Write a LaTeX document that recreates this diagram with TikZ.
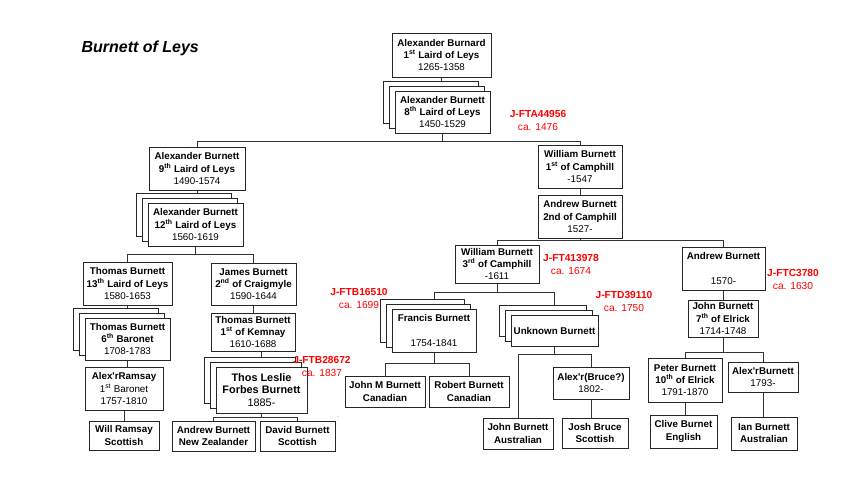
\documentclass[tikz,border=0pt]{standalone}
\usepackage{fontspec}
\setmainfont{Liberation Sans}
\usetikzlibrary{shadows,backgrounds}
\tikzset{
	box/.style={draw=black!85, fill=white, line width=0.8pt, align=center, inner sep=1pt, font=\fontsize{9.8}{12.3}\selectfont,
		drop shadow={shadow xshift=1pt, shadow yshift=-1pt, fill=black!40, opacity=1}},
	stack/.style={copy shadow={shadow xshift=-12pt, shadow yshift=10pt}, copy shadow={shadow xshift=-6pt, shadow yshift=5pt}},
	link/.style={draw=black!80, line width=0.8pt},
	ftdna/.style={text=red, align=center, font=\fontsize{10.2}{13}\selectfont}
}
% box from its corners: [options]{name}{x1}{y1}{x2}{y2}{text}
\newcommand\famnode[7][]{\node[box,#1,minimum width={#5-#3},minimum height={#6-#4}] (#2) at ({(#3+#5)/2},{(#4+#6)/2}) {#7};}
\newcommand\ap{\textquotesingle}

\begin{document}
\begin{tikzpicture}[x=1pt,y=-1pt]
		%%%%% START %%%%%
		\useasboundingbox (0,0) rectangle (864,486);
		
		\node[anchor=west, font=\fontsize{16}{18}\selectfont\bfseries\itshape] (title) at (78,48) {Burnett of Leys};
		
		% Leys line
		\famnode{burnard1}{392}{33}{491}{77}{\textbf{Alexander Burnard}\\\textbf{1\textsuperscript{st} Laird of Leys}\\1265-1358}
		\famnode[stack]{leys8}{395}{91}{490}{133}{\textbf{Alexander Burnett}\\\textbf{8\textsuperscript{th} Laird of Leys}\\1450-1529}
		\famnode{leys9}{149}{147}{245}{190}{\textbf{Alexander Burnett}\\\textbf{9\textsuperscript{th} Laird of Leys}\\1490-1574}
		\famnode[stack]{leys12}{148}{203}{243}{246}{\textbf{Alexander Burnett}\\\textbf{12\textsuperscript{th} Laird of Leys}\\1560-1619}
		\famnode{leys13}{83}{262}{172}{305}{\textbf{Thomas Burnett}\\\textbf{13\textsuperscript{th} Laird of Leys}\\1580-1653}
		\famnode{craigmyle2}{211}{263}{296}{305}{\textbf{James Burnett}\\\textbf{2\textsuperscript{nd} of Craigmyle}\\1590-1644}
		\famnode[stack]{baronet6}{85}{318}{170}{360}{\textbf{Thomas Burnett}\\\textbf{6\textsuperscript{th} Baronet}\\1708-1783}
		\famnode{kemnay1}{211}{313}{295}{351}{\textbf{Thomas Burnett}\\\textbf{1\textsuperscript{st} of Kemnay}\\1610-1688}
		\famnode{ramsay}{85}{367}{163}{410}{\textbf{Alex\ap rRamsay}\\1\textsuperscript{st} Baronet\\1757-1810}
		\famnode[stack,font=\fontsize{10.9}{12.8}\selectfont]{thos}{216}{367}{307}{413}{\textbf{Thos Leslie}\\\textbf{Forbes Burnett}\\1885-}
		\famnode{will}{89}{421}{159}{450}{\textbf{Will Ramsay}\\\textbf{Scottish}}
		\famnode{andrewnz}{172}{421}{255}{451}{\textbf{Andrew Burnett}\\\textbf{New Zealander}}
		\famnode{davidsc}{260}{421}{335}{451}{\textbf{David Burnett}\\\textbf{Scottish}}
		\node[font=\tiny] (stray) at (338,417) {.};
		
		% Camphill line
		\famnode{camphill1}{538}{145}{622}{188}{\textbf{William Burnett}\\\textbf{1\textsuperscript{st} of Camphill}\\-1547}
		\famnode{camphill2}{538}{195}{622}{238}{\textbf{Andrew Burnett}\\\textbf{2nd of Camphill}\\1527-}
		\famnode{camphill3}{455}{245}{539}{283}{\textbf{William Burnett}\\\textbf{3\textsuperscript{rd} of Camphill}\\-1611}
		\famnode[stack]{francis}{392}{309}{476}{352}{\textbf{Francis Burnett}\\[12pt]1754-1841}
		\famnode[stack]{unknown}{511}{315}{598}{346}{\textbf{Unknown Burnett}}
		\famnode{johnm}{345}{376}{425}{407}{\textbf{John M Burnett}\\\textbf{Canadian}}
		\famnode{robert}{429}{376}{509}{407}{\textbf{Robert Burnett}\\\textbf{Canadian}}
		\famnode{alexbruce}{553}{367}{629}{399}{\textbf{Alex\ap r(Bruce?)}\\1802-}
		\famnode{johnau}{483}{418}{553}{449}{\textbf{John Burnett}\\\textbf{Australian}}
		\famnode{josh}{562}{418}{628}{448}{\textbf{Josh Bruce}\\\textbf{Scottish}}
		
		% Elrick line
		\famnode{andrew1570}{682}{247}{765}{290}{\textbf{Andrew Burnett}\\[12pt]1570-}
		\famnode{elrick7}{688}{300}{758}{337}{\textbf{John Burnett}\\\textbf{7\textsuperscript{th} of Elrick}\\1714-1748}
		\famnode{elrick10}{648}{358}{722}{402}{\textbf{Peter Burnett}\\\textbf{10\textsuperscript{th} of Elrick}\\1791-1870}
		\famnode{alexb}{728}{362}{798}{392}{\textbf{Alex\ap rBurnett}\\1793-}
		\famnode{clive}{650}{415}{717}{448}{\textbf{Clive Burnet}\\\textbf{English}}
		\famnode{ian}{731}{417}{797}{450}{\textbf{Ian Burnett}\\\textbf{Australian}}
		
		% haplogroup kits
		\node[ftdna] (kitA) at (538,120) {\textbf{J-FTA44956}\\ca. 1476};
		\node[ftdna] (kit413) at (571,264) {\textbf{J-FT413978}\\ca. 1674};
		\node[ftdna] (kitB165) at (359,298) {\textbf{J-FTB16510}\\ca. 1699};
		\node[ftdna] (kitD) at (624,301) {\textbf{J-FTD39110}\\ca. 1750};
		\node[ftdna] (kitC) at (793,279) {\textbf{J-FTC3780}\\ca. 1630};
		\node[ftdna] (kitB286) at (322,366) {\textbf{J-FTB28672}\\ca. 1837};
		
		\begin{scope}[on background layer]
			\draw[link] (burnard1.south) -- (burnard1.south |- leys8.north);
			\draw[link] (leys8.south) -- ++(0,8) -| (leys9.north);
			\draw[link] (leys8.south) -- ++(0,8) -| (camphill1.north);
			
			\draw[link] (leys9.south) -- (leys9.south |- leys12.north);
			\draw[link] (leys12.south) -- ++(0,8) -| (leys13.north);
			\draw[link] (leys12.south) -- ++(0,8) -| (craigmyle2.north);
			\draw[link] (leys13.south) -- (leys13.south |- baronet6.north);
			\draw[link] (baronet6.south) -- (baronet6.south |- ramsay.north);
			\draw[link] (ramsay.south) -- (ramsay.south |- will.north);
			\draw[link] (craigmyle2.south) -- (craigmyle2.south |- kemnay1.north);
			\draw[link] (thos.north |- kemnay1.south) -- (thos.north);
			\draw[link] (thos.south) -- ++(0,4) -| (andrewnz.north);
			\draw[link] (thos.south) -- ++(0,4) -| (davidsc.north);
			
			\draw[link] (camphill1.south) -- (camphill1.south |- camphill2.north);
			\draw[link] (camphill2.south) -- ++(0,2) -| (camphill3.north);
			\draw[link] (camphill2.south) -- ++(0,2) -| (andrew1570.north);
			\draw[link] (camphill3.south) -- ++(0,9) -| (francis.north);
			\draw[link] (camphill3.south) -- ++(0,9) -| (unknown.north);
			\draw[link] (francis.south) -- ++(0,11) -| (johnm.north);
			\draw[link] (francis.south) -- ++(0,11) -| (robert.north);
			\draw[link] (unknown.south) -- ++(0,8) -| (johnau.north);
			\draw[link] (unknown.south) -- ++(0,8) -| (alexbruce.north);
			\draw[link] (alexbruce.south) -- (alexbruce.south |- josh.north);
			
			\draw[link] (andrew1570.south) -- (andrew1570.south |- elrick7.north);
			\draw[link] (elrick7.south) -- ++(0,15) -| (elrick10.north);
			\draw[link] (elrick7.south) -- ++(0,15) -| (alexb.north);
			\draw[link] (elrick10.south) -- (elrick10.south |- clive.north);
			\draw[link] (alexb.south) -- (alexb.south |- ian.north);
		\end{scope}
		
		%%%%% END %%%%%
\end{tikzpicture}
\end{document}
